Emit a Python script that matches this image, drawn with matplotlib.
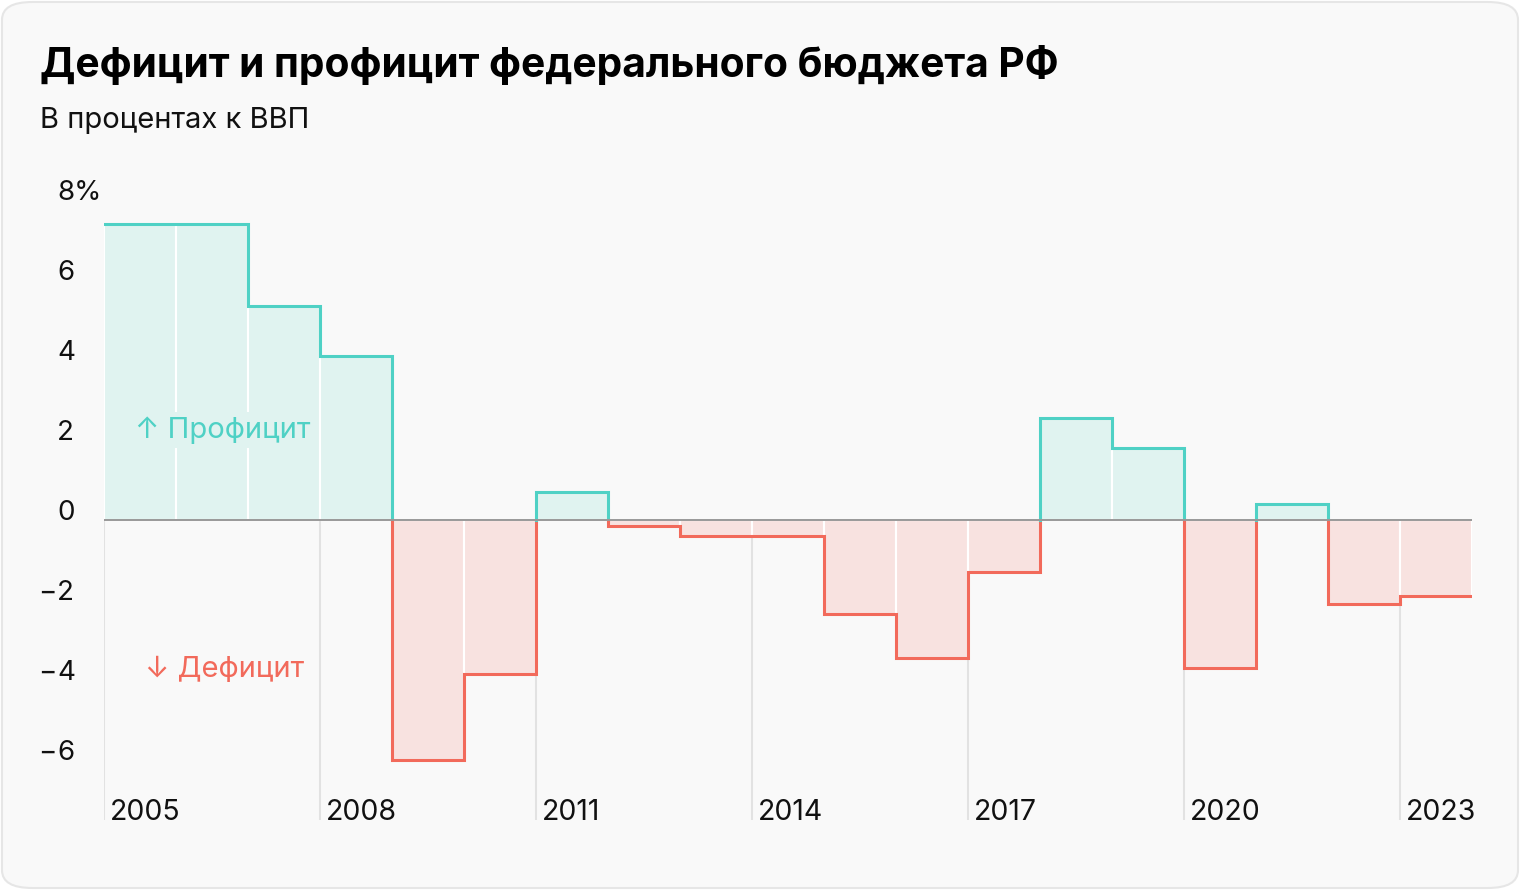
import numpy as np
import matplotlib
matplotlib.use('Agg')
import matplotlib.pyplot as plt
from matplotlib.patches import FancyBboxPatch

plt.rcParams['font.family'] = ['Inter', 'DejaVu Sans']

# Data
years = np.arange(2005, 2024)
balance = [7.4, 7.4, 5.35, 4.1, -6.0, -3.85, 0.7, -0.15, -0.4, -0.4,
           -2.35, -3.45, -1.3, 2.55, 1.8, -3.7, 0.4, -2.1, -1.9]
xtick_years = [2005, 2008, 2011, 2014, 2017, 2020, 2023]
ytick_vals = [-6, -4, -2, 0, 2, 4, 6, 8]
ytick_labels = ['−6', '−4', '−2', '0', '2', '4', '6', '8%']

teal, teal_fill = '#4fd1c5', '#e0f3f0'
red, red_fill = '#f26a5b', '#f8e2e0'

fig = plt.figure(figsize=(15.2, 8.9), dpi=100, facecolor='white')
fig.patches.append(FancyBboxPatch((2 / 1520, 2 / 890), 1516 / 1520, 886 / 890,
                                  boxstyle='round,pad=0,rounding_size=0.02',
                                  transform=fig.transFigure, facecolor='#f9f9f9',
                                  edgecolor='#e6e6e6', linewidth=1.5, zorder=-10))

ax = fig.add_axes([104 / 1520, 70 / 890, 1368 / 1520, 640 / 890])
ax.set_facecolor('none')
for s in ax.spines.values():
    s.set_visible(False)
ax.set_xlim(2005, 2024)
ax.set_ylim(-7.5, 8.5)
ax.set_xticks([])
ax.set_yticks([])

vals = np.array(balance)
edges = np.append(years, years[-1] + 1)

# grey gridlines below zero at labelled years
ax.vlines(xtick_years, -7.5, 0, color='#e2e2e2', lw=1.5, zorder=0)

# fills
colors = [teal_fill if v > 0 else red_fill for v in vals]
ax.bar(years, vals, width=1, align='edge', color=colors, edgecolor='white',
       linewidth=1.5, zorder=1)

# step outlines per sign run
pos = vals > 0
i = 0
n = len(vals)
while i < n:
    j = i
    while j + 1 < n and pos[j + 1] == pos[i]:
        j += 1
    xs = np.repeat(edges[i:j + 2], 2)
    ys = np.concatenate([[0], np.repeat(vals[i:j + 1], 2), [0]])
    if i == 0:
        xs, ys = xs[1:], ys[1:]
    if j == n - 1:
        xs, ys = xs[:-1], ys[:-1]
    ax.plot(xs, ys, color=teal if pos[i] else red, lw=2.2, zorder=3,
            solid_joinstyle='miter')
    i = j + 1

ax.axhline(0, color='#999999', lw=1.4, zorder=4)

# y labels
ytr = ax.get_yaxis_transform()
for v, lab in zip(ytick_vals, ytick_labels):
    if lab.startswith('−'):
        ax.text(-0.0344, v, '−', transform=ytr, ha='right', va='baseline',
                fontsize=20, color='#111111')
        lab = lab[1:]
    ax.text(-0.0344, v, lab, transform=ytr, ha='left', va='baseline',
            fontsize=20, color='#111111')

# x labels
for yr in xtick_years:
    ax.text(yr + 0.085, -7.5, str(yr), ha='left', va='baseline',
            fontsize=20.5, color='#111111')

ax.text(2005.43, 2.25, '↑ Профицит', color=teal, fontsize=21, ha='left',
        va='center', zorder=5,
        bbox=dict(boxstyle='square,pad=0.15', fc=teal_fill, ec='none'))
ax.text(2005.57, -3.75, '↓ Дефицит', color=red, fontsize=21, ha='left',
        va='center', zorder=5)

fig.text(40 / 1520, 1 - 65 / 890, 'Дефицит и профицит федерального бюджета РФ',
         fontsize=29.3, fontweight='bold', ha='left', va='center', color='#000000')
fig.text(40 / 1520, 1 - 120 / 890, 'В процентах к ВВП', fontsize=21,
         ha='left', va='center', color='#111111')

fig.savefig('out.png', dpi=100, facecolor='white')
